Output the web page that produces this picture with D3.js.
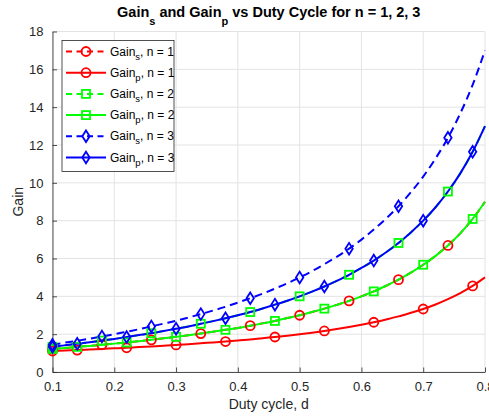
<!DOCTYPE html>
<html><head><meta charset="utf-8">
<script src="https://cdn.jsdelivr.net/npm/d3@7"></script>
<style>html,body{margin:0;padding:0;background:#fff;}svg{display:block;font-family:"Liberation Sans",Arial,sans-serif;}</style>
</head><body><svg id="c" width="489" height="416"></svg>
<script>
// Duty cycle samples
const dutyCycle = [0.10,0.12,0.14,0.16,0.18,0.20,0.22,0.24,0.26,0.28,0.30,0.32,0.34,0.36,0.38,0.40,0.42,0.44,0.46,0.48,0.50,0.52,0.54,0.56,0.58,0.60,0.62,0.64,0.66,0.68,0.70,0.72,0.74,0.76,0.78,0.80];
const gainS1 = [1.22,1.27,1.33,1.38,1.44,1.50,1.56,1.63,1.70,1.78,1.86,1.94,2.03,2.13,2.23,2.33,2.45,2.57,2.70,2.85,3.00,3.17,3.35,3.55,3.76,4.00,4.26,4.56,4.88,5.25,5.67,6.14,6.69,7.33,8.09,9.00];
const gainP1 = [1.11,1.14,1.16,1.19,1.22,1.25,1.28,1.32,1.35,1.39,1.43,1.47,1.52,1.56,1.61,1.67,1.72,1.79,1.85,1.92,2.00,2.08,2.17,2.27,2.38,2.50,2.63,2.78,2.94,3.13,3.33,3.57,3.85,4.17,4.55,5.00];
const gainS2 = [1.33,1.41,1.49,1.57,1.66,1.75,1.85,1.95,2.05,2.17,2.29,2.41,2.55,2.69,2.84,3.00,3.17,3.36,3.56,3.77,4.00,4.25,4.52,4.82,5.14,5.50,5.89,6.33,6.82,7.38,8.00,8.71,9.54,10.50,11.64,13.00];
const gainP2 = [1.22,1.27,1.33,1.38,1.44,1.50,1.56,1.63,1.70,1.78,1.86,1.94,2.03,2.13,2.23,2.33,2.45,2.57,2.70,2.85,3.00,3.17,3.35,3.55,3.76,4.00,4.26,4.56,4.88,5.25,5.67,6.14,6.69,7.33,8.09,9.00];
const gainS3 = [1.44,1.55,1.65,1.76,1.88,2.00,2.13,2.26,2.41,2.56,2.71,2.88,3.06,3.25,3.45,3.67,3.90,4.14,4.41,4.69,5.00,5.33,5.70,6.09,6.52,7.00,7.53,8.11,8.76,9.50,10.33,11.29,12.38,13.67,15.18,17.00];
const gainP3 = [1.33,1.41,1.49,1.57,1.66,1.75,1.85,1.95,2.05,2.17,2.29,2.41,2.55,2.69,2.84,3.00,3.17,3.36,3.56,3.77,4.00,4.25,4.52,4.82,5.14,5.50,5.89,6.33,6.82,7.38,8.00,8.71,9.54,10.50,11.64,13.00];
// marker sample indices
const markS = [0,4,8,12,16,20,24,28,32];
const markP = [0,2,6,10,14,18,22,26,30,34];
const xTicks = [0.1,0.2,0.3,0.4,0.5,0.6,0.7,0.8];
const yTicks = [0,2,4,6,8,10,12,14,16,18];
const seriesNames = ["s","p","s","p","s","p"];
const seriesN = [1,1,2,2,3,3];

const series = [
  {vals:gainS1, color:"#ff0000", dash:true,  marker:"circle",  marks:markS},
  {vals:gainP1, color:"#ff0000", dash:false, marker:"circle",  marks:markP},
  {vals:gainS2, color:"#00ff00", dash:true,  marker:"square",  marks:markS},
  {vals:gainP2, color:"#00ff00", dash:false, marker:"square",  marks:markP},
  {vals:gainS3, color:"#0000ff", dash:true,  marker:"diamond", marks:markS},
  {vals:gainP3, color:"#0000ff", dash:false, marker:"diamond", marks:markP}
];

const svg = d3.select("#c");
const L=52.5, R=485, T=31.5, B=372;
const x = d3.scaleLinear().domain([0.1,0.8]).range([L,R]);
const y = d3.scaleLinear().domain([0,18]).range([B,T]);

// grid
const g = svg.append("g");
g.selectAll("line.vx").data(xTicks).enter().append("line")
  .attr("x1",d=>x(d)).attr("x2",d=>x(d)).attr("y1",T).attr("y2",B)
  .attr("stroke","#e3e3e3").attr("stroke-width",1);
g.selectAll("line.hy").data(yTicks).enter().append("line")
  .attr("x1",L).attr("x2",R).attr("y1",d=>y(d)).attr("y2",d=>y(d))
  .attr("stroke","#e3e3e3").attr("stroke-width",1);

// axes
const xAxis = d3.axisBottom(x).tickValues(xTicks).tickFormat(d3.format(".1f")).tickSizeInner(-4.5).tickSizeOuter(0).tickPadding(10);
const yAxis = d3.axisLeft(y).tickValues(yTicks).tickFormat(d3.format("d")).tickSizeInner(-4.5).tickSizeOuter(0).tickPadding(8);
const gx = svg.append("g").attr("transform",`translate(0,${B})`).call(xAxis);
const gy = svg.append("g").attr("transform",`translate(${L},0)`).call(yAxis);
[gx,gy].forEach(a=>{
  a.select(".domain").attr("stroke","#262626").attr("stroke-width",0.8);
  a.selectAll(".tick line").attr("stroke","#262626").attr("stroke-width",0.8);
  a.selectAll(".tick text").attr("fill","#262626").style("font-size","13px").style("font-family","'Liberation Sans',Arial,sans-serif");
});
gy.selectAll(".tick text").attr("dx","-1");

// clip
svg.append("clipPath").attr("id","clip").append("rect").attr("x",L).attr("y",T-1).attr("width",R-L+1).attr("height",B-T+1);

function drawMarker(sel, type, color){
  if(type==="circle"){
    sel.append("circle").attr("r",4.5).attr("fill","none").attr("stroke",color).attr("stroke-width",1.8);
  } else if(type==="square"){
    sel.append("rect").attr("x",-4).attr("y",-4).attr("width",8).attr("height",8).attr("fill","none").attr("stroke",color).attr("stroke-width",1.8);
  } else {
    sel.append("path").attr("d","M0,-5.8L3.7,0L0,5.8L-3.7,0Z").attr("fill","none").attr("stroke",color).attr("stroke-width",1.8);
  }
}

const line = d3.line().x((d,i)=>x(dutyCycle[i])).y(d=>y(d)).curve(d3.curveMonotoneX);
const plot = svg.append("g").attr("clip-path","url(#clip)");
series.forEach(s=>{
  plot.append("path").attr("d",line(s.vals)).attr("fill","none").attr("stroke",s.color)
    .attr("stroke-width",2).attr("stroke-dasharray",s.dash?"8,5":null);
  s.marks.forEach(i=>{
    const m = svg.append("g").attr("transform",`translate(${x(dutyCycle[i])},${y(s.vals[i])})`);
    drawMarker(m, s.marker, s.color);
  });
});

// title
const title = svg.append("text").attr("x",(L+R)/2).attr("y",17).attr("text-anchor","middle")
  .style("font-size","14.5px").style("font-weight","bold").attr("fill","#000");
title.append("tspan").text("Gain");
title.append("tspan").attr("dy",8).style("font-size","11px").text("s");
title.append("tspan").attr("dy",-8).text(" and Gain");
title.append("tspan").attr("dy",8).style("font-size","11px").text("p");
title.append("tspan").attr("dy",-8).text(" vs Duty Cycle for n = 1, 2, 3");

// axis labels
svg.append("text").attr("x",(L+R)/2).attr("y",409).attr("text-anchor","middle")
  .style("font-size","14px").attr("fill","#262626").text("Duty cycle, d");
svg.append("text").attr("transform",`translate(23,${(T+B)/2}) rotate(-90)`).attr("text-anchor","middle")
  .style("font-size","14px").attr("fill","#262626").text("Gain");

// legend
const lg = svg.append("g");
lg.append("rect").attr("x",62).attr("y",40.5).attr("width",112).attr("height",131)
  .attr("fill","#fff").attr("stroke","#262626").attr("stroke-width",0.8);
series.forEach((s,k)=>{
  const cy = 51.5 + k*21.2;
  lg.append("line").attr("x1",66).attr("x2",106).attr("y1",cy).attr("y2",cy)
    .attr("stroke",s.color).attr("stroke-width",2).attr("stroke-dasharray",s.dash?"6,4.5":null);
  const m = lg.append("g").attr("transform",`translate(86,${cy})`);
  drawMarker(m, s.marker, s.color);
  const t = lg.append("text").attr("x",110).attr("y",cy+4).style("font-size","12px").attr("fill","#000");
  t.append("tspan").text("Gain");
  t.append("tspan").attr("dy",4).style("font-size","9.5px").text(seriesNames[k]);
  t.append("tspan").attr("dy",-4).text(", n = " + seriesN[k]);
});
</script></body></html>
